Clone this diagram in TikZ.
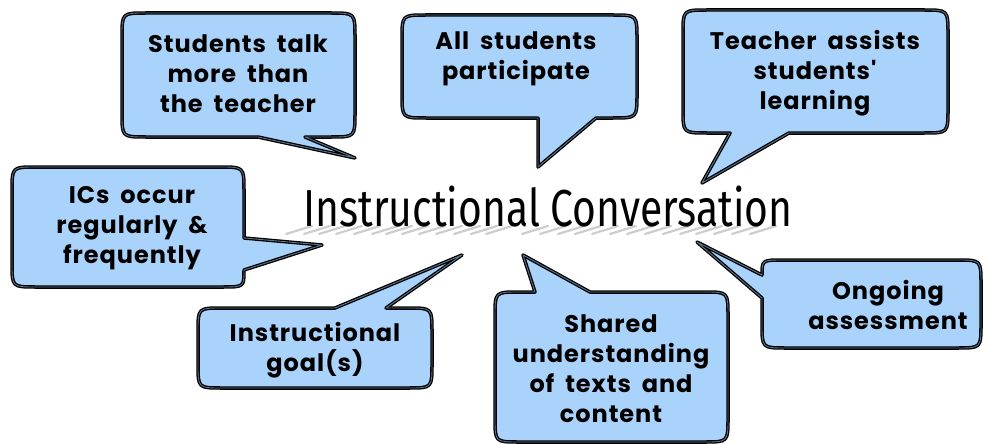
\documentclass[tikz,border=0pt]{standalone}
\usepackage{fontspec}
\newfontfamily\callfont{Poppins}[LetterSpace=4,WordSpace=1.8]
\newfontfamily\titlefont{Fira Sans}
\definecolor{callblue}{RGB}{170,211,252}
\definecolor{shadowgray}{RGB}{205,205,205}
\tikzset{
  bubble/.style={fill=callblue, draw=black, line width=1.3pt, double=callblue!55!black, double distance=0.9pt, line join=round},
  bubtext/.style={font=\callfont\bfseries\fontsize{24}{30}\selectfont, align=center, text=black, inner sep=0pt},
  titletext/.style={font=\titlefont\fontsize{52}{52}\selectfont, inner sep=0pt, xscale=0.785},
  streak/.style={draw=shadowgray, line width=2.2pt, line cap=round},
}
\begin{document}
\begin{tikzpicture}[x=1pt,y=-1pt]
\useasboundingbox (0,0) rectangle (983,444);
% 1 Students talk
\draw[bubble] (146,13) -- (331,13) .. controls (355,13) .. (355,37) -- (355,113) .. controls (355,137) .. (331,137)
  -- (305,137) -- (355,158) -- (258,137) -- (146,137) .. controls (122,137) .. (122,113) -- (122,37) .. controls (122,13) .. (146,13) -- cycle;
% 2 All students
\draw[bubble] (426,15) -- (613,15) .. controls (637,15) .. (637,39) -- (637,94) .. controls (637,118) .. (613,118)
  -- (596,118) -- (538,167) -- (538,118) -- (426,118) .. controls (402,118) .. (402,94) -- (402,39) .. controls (402,15) .. (426,15) -- cycle;
% 3 Teacher assists
\draw[bubble] (707,10) -- (924,10) .. controls (948,10) .. (948,34) -- (948,109) .. controls (948,133) .. (924,133)
  -- (789,133) -- (702,183) -- (730,133) -- (707,133) .. controls (683,133) .. (683,109) -- (683,34) .. controls (683,10) .. (707,10) -- cycle;
% 4 ICs occur
\draw[bubble] (36,167) -- (220,167) .. controls (244,167) .. (244,191) -- (244,238) -- (322,245) -- (244,270)
  .. controls (244,287) .. (222,287) -- (36,287) .. controls (12,287) .. (12,263) -- (12,191) .. controls (12,167) .. (36,167) -- cycle;
% 5 Instructional goal(s)
\draw[bubble] (222,308) -- (335,308) -- (462,255) -- (386,308) -- (408,308) .. controls (432,308) .. (432,332) -- (432,364)
  .. controls (432,388) .. (408,388) -- (222,388) .. controls (198,388) .. (198,364) -- (198,332) .. controls (198,308) .. (222,308) -- cycle;
% 6 Shared understanding
\draw[bubble] (519,292) -- (535,292) -- (523,255) -- (590,292) -- (704,292) .. controls (728,292) .. (728,316) -- (728,418)
  .. controls (728,442) .. (704,442) -- (519,442) .. controls (495,442) .. (495,418) -- (495,316) .. controls (495,292) .. (519,292) -- cycle;
% 7 Ongoing assessment
\draw[bubble] (786,260) -- (957,260) .. controls (981,260) .. (981,284) -- (981,324) .. controls (981,348) .. (957,348)
  -- (786,348) .. controls (762,348) .. (762,324) -- (762,298) -- (697,242) -- (762,275) .. controls (762,260) .. (784,260) -- cycle;

% shadow streaks under the title
\foreach \sx in {312,330,345,362,380,398,412,428,445,462,480,497,512,548,566,584,601,618,636,653,671,689,706,722,740,758,776}
  \draw[streak] (\sx,226) -- (\sx-26,234);

\node[bubtext] (talk) at (238,74) {Students talk\\more than\\the teacher};
\node[bubtext] (all) at (516,59) {All students\\participate};
\node[bubtext] (assist) at (815,73) {Teacher assists\\students'\\learning};
\node[bubtext] (ics) at (132,228) {ICs occur\\regularly \&\\frequently};
\node[bubtext] (goal) at (315,350) {Instructional\\goal(s)};
\node[bubtext] (shared) at (611,369) {Shared\\understanding\\of texts and\\content};
\node[bubtext] (ongoing) at (888,305) {Ongoing\\assessment};

\node[titletext] (title) at (548,207) {Instructional Conversation};
\end{tikzpicture}
\end{document}
